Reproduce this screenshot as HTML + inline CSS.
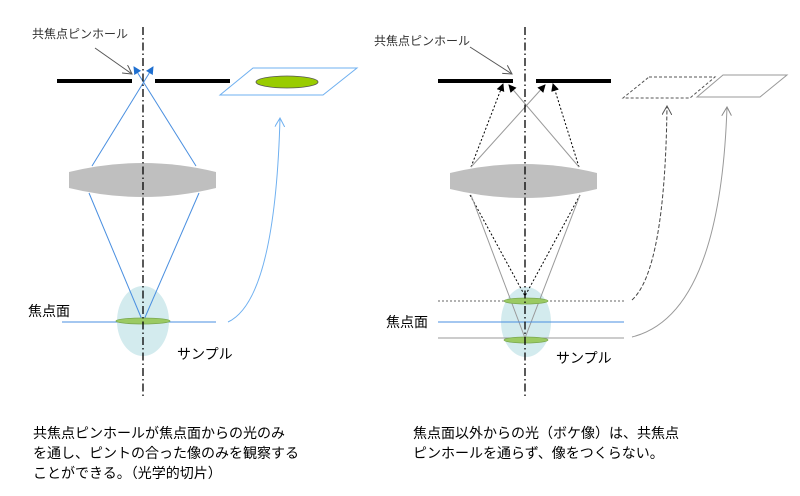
<!DOCTYPE html>
<html><head><meta charset="utf-8"><style>
body{margin:0;background:#fff;}
svg{display:block;font-family:"Liberation Sans","Noto Sans CJK JP",sans-serif;}
</style></head><body>
<svg width="800" height="496" viewBox="0 0 800 496" xmlns="http://www.w3.org/2000/svg">
<defs>
<marker id="ab" markerWidth="8" markerHeight="8" refX="7" refY="4" orient="auto" markerUnits="userSpaceOnUse"><path d="M0,0 L8,4 L0,8 Z" fill="#1f6fd0"/></marker>
<marker id="ak" markerWidth="8" markerHeight="8" refX="7" refY="4" orient="auto" markerUnits="userSpaceOnUse"><path d="M0,0 L8,4 L0,8 Z" fill="#000"/></marker>
<marker id="ao" markerWidth="10" markerHeight="10" refX="9" refY="5" orient="auto" markerUnits="userSpaceOnUse"><path d="M0,0 L9,5 L0,10" fill="none" stroke="#555" stroke-width="1"/></marker>
<marker id="aol" markerWidth="10" markerHeight="10" refX="9" refY="5" orient="auto" markerUnits="userSpaceOnUse"><path d="M0,0 L9,5 L0,10" fill="none" stroke="#6fb0f0" stroke-width="1"/></marker>
<marker id="aog" markerWidth="10" markerHeight="10" refX="9" refY="5" orient="auto" markerUnits="userSpaceOnUse"><path d="M0,0 L9,5 L0,10" fill="none" stroke="#888" stroke-width="1"/></marker>
</defs>

<!-- LEFT -->
<ellipse cx="143" cy="321" rx="26" ry="35" fill="#d3ebee"/>
<path d="M69,172 Q143,154 216,172 L216,188 Q143,206 69,188 Z" fill="#bfbfbf"/>
<rect x="57" y="79" width="75" height="4" fill="#000"/>
<rect x="155" y="79" width="75" height="4" fill="#000"/>
<g stroke="#4a8fe0" stroke-width="1" fill="none">
<line x1="92" y1="166" x2="153" y2="67" marker-end="url(#ab)"/>
<line x1="196" y1="166" x2="134" y2="67" marker-end="url(#ab)"/>
<line x1="89" y1="193" x2="143" y2="322"/>
<line x1="199" y1="193" x2="143" y2="322"/>
<line x1="62" y1="322" x2="216" y2="322"/>
</g>
<ellipse cx="143" cy="321" rx="27" ry="3" fill="#9bca63" stroke="#7aa850" stroke-width="0.8"/>
<line x1="143" y1="27" x2="143" y2="397" stroke="#000" stroke-width="1.3" stroke-dasharray="8,3,1.5,3"/>
<polygon points="253,68 357,68 323,95 220,95" fill="none" stroke="#6fb0f0" stroke-width="1"/>
<ellipse cx="287" cy="82" rx="31" ry="6" fill="#99cc00" stroke="#555" stroke-width="0.8"/>
<path d="M228,322 Q275,300 280,118" fill="none" stroke="#6fb0f0" stroke-width="1" marker-end="url(#aol)"/>
<line x1="95" y1="48" x2="132" y2="74" stroke="#555" stroke-width="1" marker-end="url(#ao)"/>
<text x="32" y="38" font-size="12" fill="#333">共焦点ピンホール</text>
<text x="28" y="316" font-size="14" fill="#000">焦点面</text>
<text x="177" y="359" font-size="14" fill="#000">サンプル</text>
<text font-size="14" fill="#000"><tspan x="33" y="438">共焦点ピンホールが焦点面からの光のみ</tspan><tspan x="33" y="458">を通し、ピントの合った像のみを観察する</tspan><tspan x="33" y="478">ことができる。（光学的切片）</tspan></text>

<!-- RIGHT -->
<ellipse cx="526" cy="322" rx="25" ry="35" fill="#d3ebee"/>
<path d="M450,173 Q524,155 597,173 L597,189 Q524,207 450,189 Z" fill="#bfbfbf"/>
<rect x="438" y="79" width="75" height="4" fill="#000"/>
<rect x="536" y="79" width="75" height="4" fill="#000"/>
<g stroke="#000" stroke-width="1" fill="none" stroke-dasharray="2,2">
<line x1="471" y1="167" x2="503" y2="84" marker-end="url(#ak)"/>
<line x1="579" y1="167" x2="553" y2="84" marker-end="url(#ak)"/>
<line x1="470" y1="195" x2="525" y2="296"/>
<line x1="580" y1="195" x2="525" y2="296"/>
</g>
<g stroke="#999" stroke-width="1" fill="none">
<line x1="471" y1="167" x2="545" y2="85" marker-end="url(#ak)"/>
<line x1="579" y1="167" x2="509" y2="85" marker-end="url(#ak)"/>
<line x1="471" y1="195" x2="525" y2="338"/>
<line x1="580" y1="195" x2="525" y2="338"/>
<line x1="438" y1="338" x2="624" y2="338"/>
</g>
<line x1="438" y1="301" x2="624" y2="301" stroke="#666" stroke-width="1" stroke-dasharray="2,2"/>
<line x1="438" y1="322" x2="624" y2="322" stroke="#4a8fe0" stroke-width="1"/>
<ellipse cx="526" cy="301" rx="22" ry="3" fill="#9bca63" stroke="#7aa850" stroke-width="0.8"/>
<ellipse cx="526" cy="340" rx="22" ry="3" fill="#9bca63" stroke="#7aa850" stroke-width="0.8"/>
<line x1="525" y1="27" x2="525" y2="397" stroke="#000" stroke-width="1.3" stroke-dasharray="8,3,1.5,3"/>
<polygon points="649,77 715,77 690,98 623,98" fill="none" stroke="#555" stroke-width="1" stroke-dasharray="3,2"/>
<polygon points="723,75 787,75 760,97 697,97" fill="none" stroke="#999" stroke-width="1"/>
<path d="M632,300 Q665,270 667,106" fill="none" stroke="#444" stroke-width="1" stroke-dasharray="4,2" marker-end="url(#ao)"/>
<path d="M632,337 Q720,315 727,107" fill="none" stroke="#999" stroke-width="1" marker-end="url(#aog)"/>
<line x1="470" y1="47" x2="512" y2="74" stroke="#555" stroke-width="1" marker-end="url(#ao)"/>
<text x="374" y="45" font-size="12" fill="#333">共焦点ピンホール</text>
<text x="386" y="327" font-size="14" fill="#000">焦点面</text>
<text x="556" y="363" font-size="14" fill="#000">サンプル</text>
<text font-size="14" fill="#000"><tspan x="413" y="438">焦点面以外からの光（ボケ像）は、共焦点</tspan><tspan x="413" y="458">ピンホールを通らず、像をつくらない。</tspan></text>
</svg>
</body></html>
